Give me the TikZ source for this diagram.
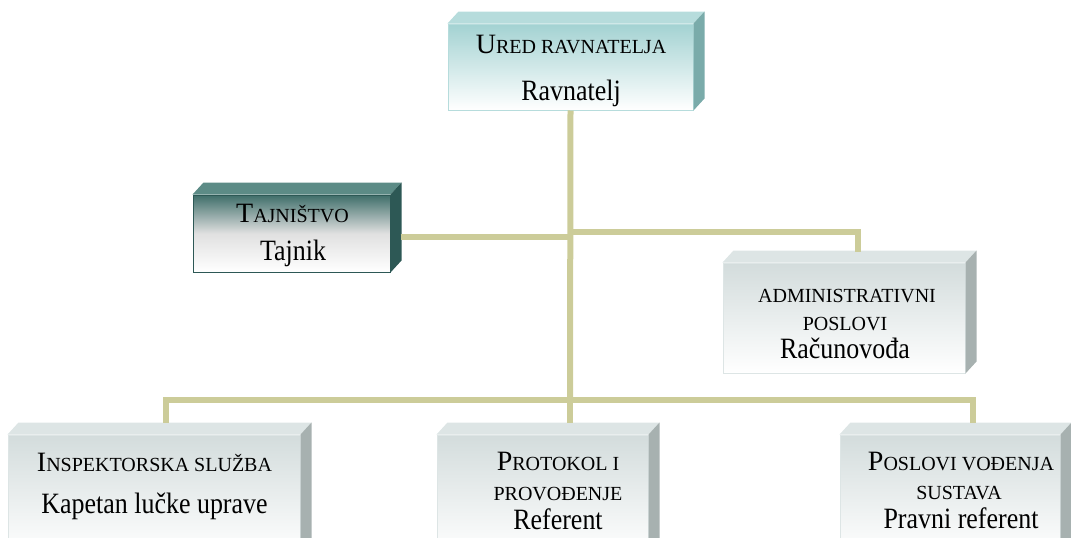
\documentclass[tikz,border=0pt]{standalone}
\usepackage{fontspec}
\setmainfont{Liberation Serif}
\newfontfamily\tallfont{Liberation Serif}[FakeStretch=0.88]
\usetikzlibrary{calc}

\definecolor{linkc}{HTML}{CCCC99}
\definecolor{tealtop}{HTML}{A3D2D2}
\definecolor{tealroof}{HTML}{B6DCDC}
\definecolor{tealwall}{HTML}{7AABAA}
\definecolor{darktop}{HTML}{3F6E6A}
\definecolor{darkroof}{HTML}{5C8B86}
\definecolor{darkwall}{HTML}{2D5855}
\definecolor{greytop}{HTML}{D3DCDC}
\definecolor{greyroof}{HTML}{DDE5E5}
\definecolor{greywall}{HTML}{A7B1B0}

\newcommand{\capsz}[1]{{\fontsize{20}{24}\selectfont #1}}
\newcommand{\initsz}[1]{{\fontsize{28}{30}\selectfont #1}}
% roof and right wall of a box
\newcommand{\boxfaces}[3]{%
  \fill[#2] (#1.north west) -- ++(11,-12) -- ($(#1.north east)+(11,-12)$) -- (#1.north east) -- cycle;
  \fill[#3] (#1.north east) -- ++(11,-12) -- ($(#1.south east)+(11,-12)$) -- (#1.south east) -- cycle;}

\begin{document}
\begin{tikzpicture}[
    x=1pt, y=-1pt,
    link/.style={draw=linkc, line width=6pt},
    face/.style={inner sep=0pt, line width=1pt},
    tealbox/.style={face, draw=tealroof, top color=tealtop, bottom color=white},
    darkbox/.style={face, draw=darkwall, top color=darktop, bottom color=white, middle color=black!12},
    greybox/.style={face, draw=greyroof, top color=greytop, bottom color=white},
    headline/.style={anchor=base, inner sep=0pt},
    person/.style={anchor=base, inner sep=0pt, font=\tallfont\fontsize{29.5}{30}\selectfont}
]
\useasboundingbox (0,0) rectangle (1071,538);
\clip (0,0) rectangle (1071,538);

% boxes
\node[tealbox, minimum width=245pt, minimum height=86pt] (ured) at (570.5,67) {};
\boxfaces{ured}{tealroof}{tealwall}
\node[darkbox, minimum width=197pt, minimum height=77pt] (taj) at (291.5,233.5) {};
\boxfaces{taj}{darkroof}{darkwall}
\node[greybox, minimum width=242pt, minimum height=110pt] (admin) at (844,318) {};
\boxfaces{admin}{greyroof}{greywall}
\node[greybox, minimum width=292pt, minimum height=120pt] (insp) at (154,495) {};
\boxfaces{insp}{greyroof}{greywall}
\node[greybox, minimum width=211pt, minimum height=120pt] (prot) at (542.5,495) {};
\boxfaces{prot}{greyroof}{greywall}
\node[greybox, minimum width=220pt, minimum height=120pt] (posl) at (950,495) {};
\boxfaces{posl}{greyroof}{greywall}

% texts
\node[headline] (ured-h) at (571,53) {\initsz{U}\capsz{RED RAVNATELJA}};
\node[person] (ured-p) at (571,100) {Ravnatelj};
\node[headline] (taj-h) at (292.5,222) {\initsz{T}\capsz{AJNIŠTVO}};
\node[person] (taj-p) at (293,260) {Tajnik};
\node[headline] (admin-h) at (847,302) {\capsz{ADMINISTRATIVNI}};
\node[headline] (admin-h2) at (845,330) {\capsz{POSLOVI}};
\node[person] (admin-p) at (845,358) {Računovođa};
\node[headline] (insp-h) at (154.5,471) {\initsz{I}\capsz{NSPEKTORSKA SLUŽBA}};
\node[person] (insp-p) at (154.5,513) {Kapetan lučke uprave};
\node[headline] (prot-h) at (558,470) {\initsz{P}\capsz{ROTOKOL I}};
\node[headline] (prot-h2) at (558,500) {\capsz{PROVOĐENJE}};
\node[person] (prot-p) at (558,529) {Referent};
\node[headline] (posl-h) at (961,470) {\initsz{P}\capsz{OSLOVI VOĐENJA}};
\node[headline] (posl-h2) at (959,499) {\capsz{SUSTAVA}};
\node[person] (posl-p) at (961,528) {Pravni referent};

% connectors
\coordinate (bus) at (570,400);
\coordinate (lj) at (570,236.5);
\coordinate (rj) at (570,231.5);

\draw[link] (ured.south) -- (bus);
\draw[link] ([xshift=10pt,yshift=-3pt]taj.east) -- (lj);
\draw[link] (rj) -| ([xshift=14pt,yshift=11pt]admin.north);
\draw[link] ([xshift=12pt,yshift=12pt]insp.north) |- (bus) -| ([xshift=23pt,yshift=12pt]posl.north);
\draw[link] (bus) -- ([xshift=27.5pt,yshift=12pt]prot.north);
\end{tikzpicture}
\end{document}
